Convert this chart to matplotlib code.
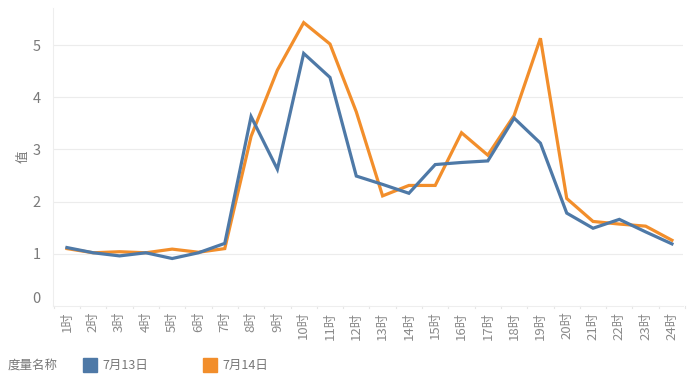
import numpy as np
import matplotlib.pyplot as plt
from matplotlib.patches import Rectangle

plt.rcParams['font.family'] = ['Noto Sans CJK SC', 'DejaVu Sans']

# data
hours = ["{}时".format(h) for h in range(1, 25)]
series_names = ["7月13日", "7月14日"]
jul13 = [1.12, 1.02, 0.96, 1.02, 0.91, 1.02, 1.20, 3.63, 2.62, 4.84, 4.38, 2.49,
         2.33, 2.16, 2.71, 2.75, 2.78, 3.60, 3.12, 1.78, 1.49, 1.66, 1.42, 1.19]
jul14 = [1.10, 1.02, 1.04, 1.02, 1.09, 1.03, 1.10, 3.25, 4.52, 5.43, 5.02, 3.72,
         2.11, 2.31, 2.31, 3.32, 2.89, 3.65, 5.13, 2.06, 1.62, 1.57, 1.53, 1.26]
colors = ["#4e79a7", "#f28e2b"]

grey = "#777777"
light = "#e6e6e6"

fig = plt.figure(figsize=(6.89, 3.81), dpi=100)
ax = fig.add_axes([53 / 689, 75 / 381, 630 / 689, 298 / 381])

x = np.arange(len(hours))
# orange first so blue sits on top like the reference
ax.plot(x, jul14, color=colors[1], lw=2.3, solid_joinstyle='miter')
ax.plot(x, jul13, color=colors[0], lw=2.3, solid_joinstyle='miter')

ax.set_xlim(-0.53, 23.42)
ax.set_ylim(0, 5.71)
ax.set_yticks([0, 1, 2, 3, 4, 5])
ax.set_xticks(x)
ax.set_xticklabels(hours, rotation=90, fontsize=9.5, color="#8a8a8a")
ax.tick_params(axis='x', length=0, pad=4)
ax.tick_params(axis='y', length=0, pad=9, labelsize=10.5, labelcolor="#7a7a7a")
ax.get_yticklabels()[0].set_va('bottom')

# horizontal grid lines
for v in [1, 2, 3, 4, 5]:
    ax.axhline(v, color="#ececec", lw=0.8, zorder=0)

# small separator ticks between hours along the bottom
for b in np.arange(-0.5, 24, 1.0):
    ax.plot([b, b], [0, -0.04], color=light, lw=0.8, clip_on=False)

for side in ['top', 'right']:
    ax.spines[side].set_visible(False)
ax.spines['left'].set_color("#eeeeee")
ax.spines['bottom'].set_color("#eeeeee")

ax.set_ylabel("值", color=grey, fontsize=9, labelpad=2)

# legend at the bottom
fig.text(8 / 689, 1 - 365 / 381, "度量名称", fontsize=9, color=grey, va='center')
leg_x = [83, 203]
for name, c, lx in zip(series_names, colors, leg_x):
    fig.patches.append(Rectangle((lx / 689, 1 - 372 / 381), 14 / 689, 14 / 381,
                                 transform=fig.transFigure, color=c))
    fig.text((lx + 19) / 689, 1 - 365 / 381, name, fontsize=9, color=grey, va='center')

fig.savefig("out.png", dpi=100)
